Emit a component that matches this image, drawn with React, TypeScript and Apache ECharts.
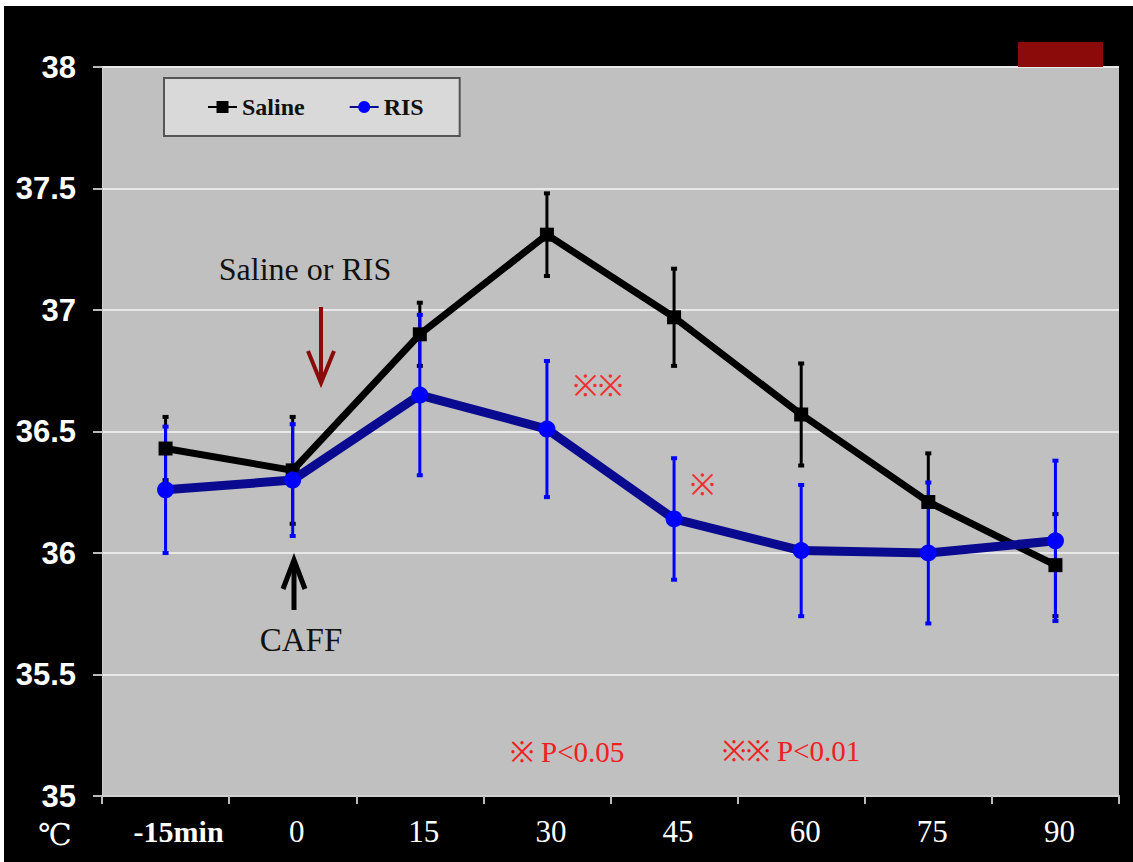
import React, { useEffect, useRef } from "react";
import * as echarts from "echarts";

const categories = ["-15min", "0", "15", "30", "45", "60", "75", "90"];
const yTicks = [35, 35.5, 36, 36.5, 37, 37.5, 38];
const salineMean = [36.43, 36.34, 36.9, 37.31, 36.97, 36.57, 36.21, 35.95];
const salineErr = [0.13, 0.22, 0.13, 0.17, 0.2, 0.21, 0.2, 0.21];
const risMean = [36.26, 36.3, 36.65, 36.51, 36.14, 36.01, 36.0, 36.05];
const risErr = [0.26, 0.23, 0.33, 0.28, 0.25, 0.27, 0.29, 0.33];

const errData = (mean: number[], err: number[]) =>
  mean.map((m, i) => [i, m - err[i], m + err[i]]);

const errSeries = (name: string, mean: number[], err: number[], color: string, z: number) => ({
  type: "custom",
  name: name + " SE",
  z,
  silent: true,
  data: errData(mean, err),
  encode: { x: 0, y: [1, 2] },
  renderItem: (params: any, api: any) => {
    const x = api.value(0);
    const lo = api.coord([x, api.value(1)]);
    const hi = api.coord([x, api.value(2)]);
    const s = { stroke: color, lineWidth: 3 };
    return {
      type: "group",
      children: [
        { type: "line", shape: { x1: hi[0], y1: hi[1], x2: lo[0], y2: lo[1] }, style: s },
        { type: "line", shape: { x1: hi[0] - 3, y1: hi[1], x2: hi[0] + 3, y2: hi[1] }, style: { stroke: color, lineWidth: 4 } },
        { type: "line", shape: { x1: lo[0] - 3, y1: lo[1], x2: lo[0] + 3, y2: lo[1] }, style: { stroke: color, lineWidth: 4 } },
      ],
    };
  },
});

export default function App() {
  const ref = useRef<HTMLDivElement>(null);
  useEffect(() => {
    if (!ref.current) return;
    const chart = echarts.init(ref.current, null, { renderer: "svg" });
    const serif = "'Liberation Serif', 'DejaVu Serif', serif";
    const sans = "'Liberation Sans', Arial, sans-serif";
    chart.setOption({
      animation: false,
      backgroundColor: "#000",
      grid: {
        left: 102,
        right: 14,
        top: 67,
        bottom: 66,
        show: true,
        backgroundColor: "#c0c0c0",
        borderWidth: 0,
      },
      legend: {
        left: 164,
        top: 78,
        padding: [17, 36, 17, 43],
        backgroundColor: "#d9d9d9",
        borderColor: "#555",
        borderWidth: 2,
        itemGap: 44,
        itemWidth: 29,
        itemHeight: 15,
        data: ["Saline", "RIS"],
        textStyle: { fontFamily: serif, fontWeight: "bold", fontSize: 24, color: "#111" },
      },
      xAxis: {
        type: "category",
        data: categories,
        boundaryGap: true,
        axisLine: { show: true, lineStyle: { color: "#d0d0d0", width: 2 } },
        axisTick: { show: true, length: 8, lineStyle: { color: "#bbb", width: 2 } },
        axisLabel: {
          interval: 0,
          color: "#fff",
          fontFamily: serif,
          fontSize: 31,
          margin: 20,
          formatter: (v: string, i: number) => (i === 0 ? `{b|${v}}` : `{n|${v}}`),
          rich: {
            b: { color: "#fff", fontFamily: serif, fontWeight: "bold", fontSize: 30, padding: [0, 0, 0, 26] },
            n: { color: "#fff", fontFamily: serif, fontSize: 31, padding: [0, 0, 0, 8] },
          },
        },
        splitLine: { show: false },
      },
      yAxis: {
        type: "value",
        min: yTicks[0],
        max: yTicks[yTicks.length - 1],
        interval: 0.5,
        axisLine: { show: true, lineStyle: { color: "#d0d0d0", width: 1 } },
        axisTick: { show: true, length: 9, lineStyle: { color: "#bbb", width: 2 } },
        axisLabel: {
          color: "#fff",
          fontFamily: sans,
          fontWeight: "bold",
          fontSize: 31,
          margin: 26,
        },
        splitLine: { show: true, lineStyle: { color: "#e8e8e8", width: 2 } },
      },
      series: [
        errSeries("Saline", salineMean, salineErr, "#000", 2),
        errSeries("RIS", risMean, risErr, "#0000ff", 3),
        {
          type: "line",
          name: "Saline",
          data: salineMean,
          z: 4,
          symbol: "rect",
          symbolSize: 14,
          lineStyle: { color: "#000", width: 7 },
          itemStyle: { color: "#000" },
        },
        {
          type: "line",
          name: "RIS",
          data: risMean,
          z: 5,
          symbol: "circle",
          symbolSize: 17,
          lineStyle: { color: "#0a0a90", width: 9 },
          itemStyle: { color: "#0000ff" },
        },
      ],
      graphic: [
        { type: "rect", left: 0, top: 0, shape: { width: 1133, height: 6 }, style: { fill: "#fff" }, z: 100 },
        { type: "rect", left: 0, top: 0, shape: { width: 4, height: 862 }, style: { fill: "#fff" }, z: 100 },
        { type: "rect", shape: { x: 1018, y: 42, width: 85, height: 25 }, style: { fill: "#8b0a0a" }, z: 50 },
        {
          type: "text",
          x: 55,
          y: 834,
          style: { text: "℃", fill: "#fff", font: `30px ${serif}`, textAlign: "center", textVerticalAlign: "middle" },
          z: 50,
        },
        {
          type: "text",
          x: 305,
          y: 269,
          style: { text: "Saline or RIS", fill: "#111", font: `32px ${serif}`, textAlign: "center", textVerticalAlign: "middle" },
          z: 50,
        },
        { type: "line", shape: { x1: 321, y1: 307, x2: 321, y2: 381 }, style: { stroke: "#8b0a0a", lineWidth: 4 }, z: 50 },
        { type: "polyline", shape: { points: [[308, 351], [321, 383], [334, 351]] }, style: { stroke: "#8b0a0a", lineWidth: 4, fill: "none" }, z: 50 },
        { type: "line", shape: { x1: 294, y1: 610, x2: 294, y2: 561 }, style: { stroke: "#000", lineWidth: 5 }, z: 50 },
        { type: "polyline", shape: { points: [[283, 589], [294, 560], [305, 589]] }, style: { stroke: "#000", lineWidth: 5, fill: "none" }, z: 50 },
        {
          type: "text",
          x: 301,
          y: 640,
          style: { text: "CAFF", fill: "#111", font: `33px ${serif}`, textAlign: "center", textVerticalAlign: "middle" },
          z: 50,
        },
        {
          type: "text",
          x: 598,
          y: 385,
          style: { text: "※※", fill: "#f03030", font: `30px ${serif}`, textAlign: "center", textVerticalAlign: "middle" },
          z: 50,
        },
        {
          type: "text",
          x: 702,
          y: 484,
          style: { text: "※", fill: "#f03030", font: `30px ${serif}`, textAlign: "center", textVerticalAlign: "middle" },
          z: 50,
        },
        {
          type: "text",
          x: 567,
          y: 752,
          style: { text: "※ P<0.05", fill: "#f02020", font: `29px ${serif}`, textAlign: "center", textVerticalAlign: "middle" },
          z: 50,
        },
        {
          type: "text",
          x: 791,
          y: 751,
          style: { text: "※※ P<0.01", fill: "#f02020", font: `29px ${serif}`, textAlign: "center", textVerticalAlign: "middle" },
          z: 50,
        },
      ],
    });
    return () => chart.dispose();
  }, []);
  return (
    <div
      ref={ref}
      style={{ position: "fixed", left: 0, top: 0, width: 1133, height: 862 }}
    />
  );
}
